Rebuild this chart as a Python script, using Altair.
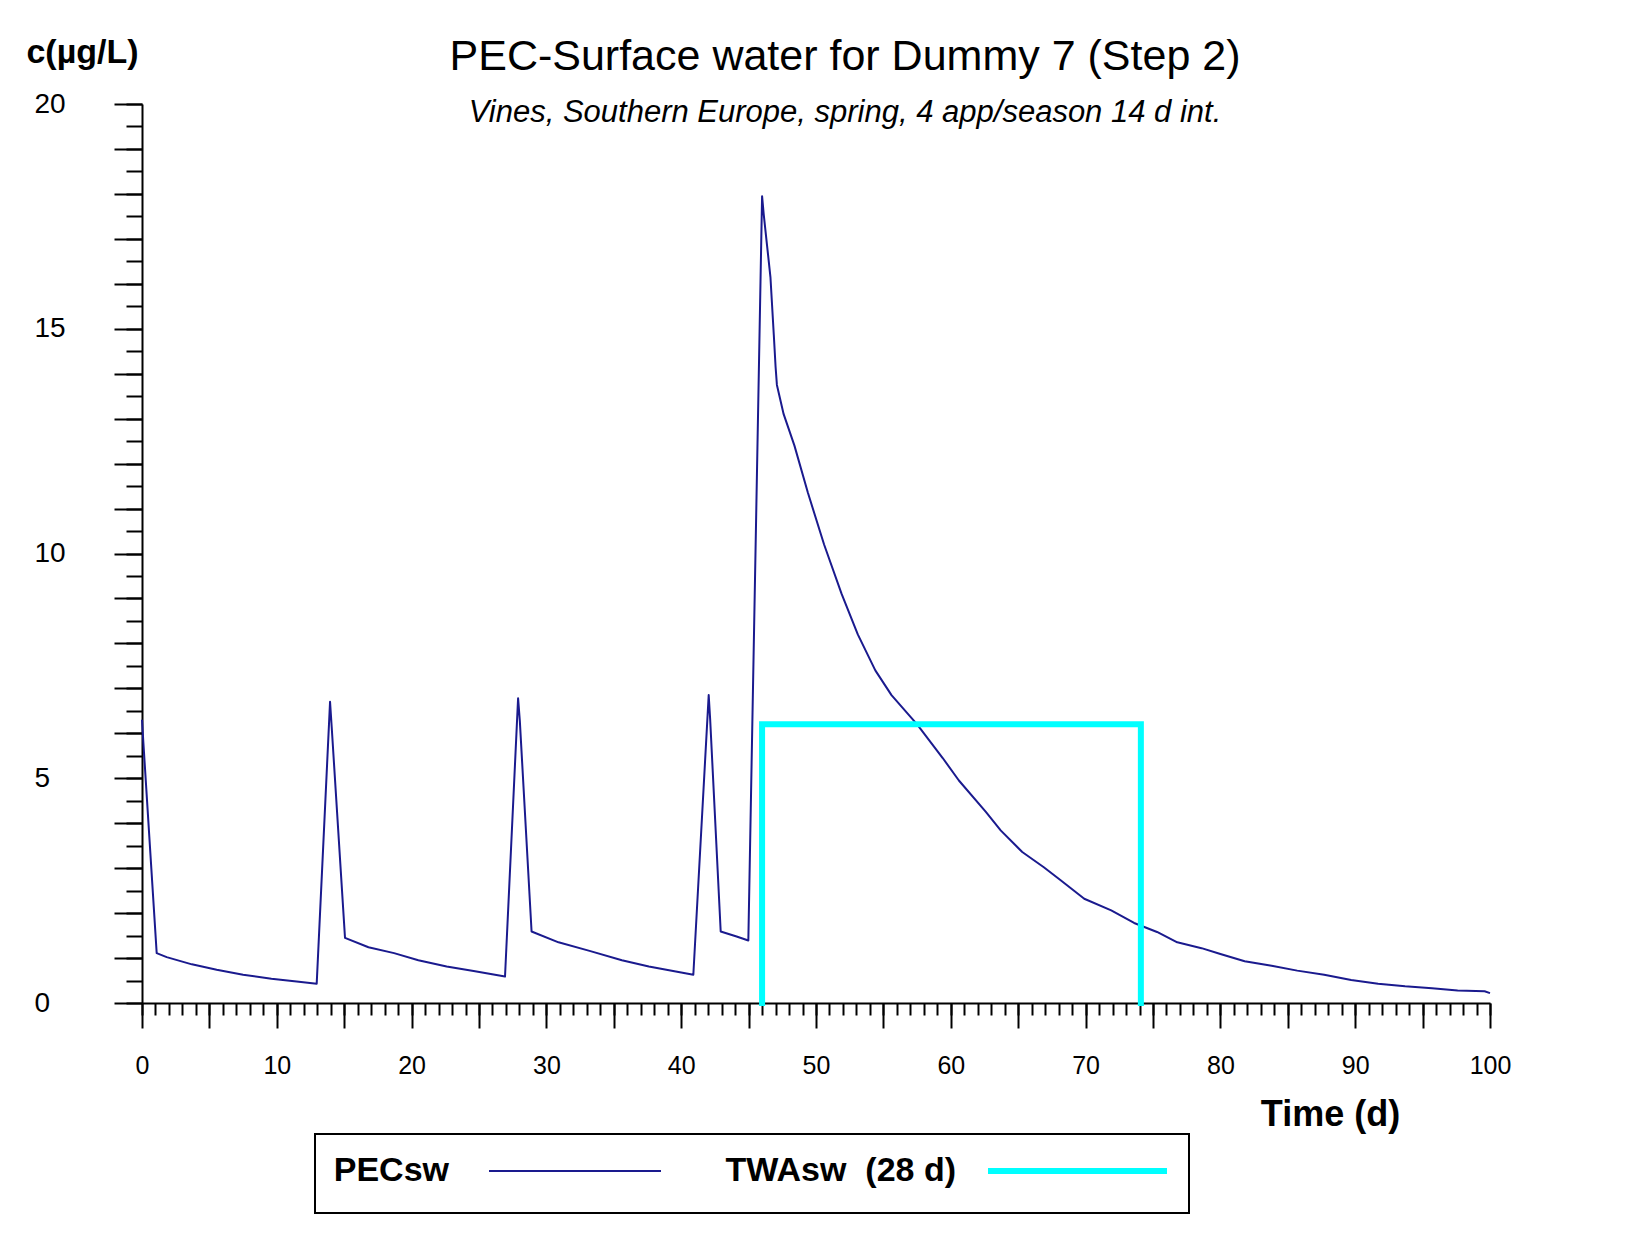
import altair as alt
import pandas as pd

F = "Liberation Sans"

# ---- data ----
pec_t = [0.0, 0.1, 1.09, 1.83, 3.7, 5.54, 7.5, 9.6, 11.47, 12.96,
         13.95, 14.07, 15.06, 16.8, 18.7, 20.5, 22.6, 24.6, 26.93,
         27.9, 28.03, 28.9, 30.9, 33.2, 35.6, 37.6, 39.6, 40.9,
         42.04, 42.15, 42.93, 44.11, 44.98,
         46.0, 46.12, 46.37, 46.62, 46.87, 47.0, 47.1, 47.6, 48.4, 49.4,
         50.6, 51.9, 53.1, 54.4, 55.6, 57.5, 59.4, 60.6, 62.6, 63.7,
         65.3, 66.9, 68.15, 69.9, 71.9, 73.6, 75.3, 76.8, 78.6, 80.0,
         81.8, 83.8, 85.7, 87.7, 89.7, 91.7, 93.7, 95.7, 97.6, 99.6, 100.0]
pec_c = [6.3, 5.8, 1.11, 1.02, 0.86, 0.74, 0.63, 0.54, 0.48, 0.43,
         6.7, 6.15, 1.45, 1.24, 1.11, 0.95, 0.81, 0.71, 0.59,
         6.78, 6.27, 1.59, 1.35, 1.16, 0.95, 0.81, 0.70, 0.63,
         6.85, 6.3, 1.59, 1.48, 1.39,
         17.95, 17.55, 16.85, 16.15, 14.86, 14.16, 13.75, 13.1, 12.4, 11.35,
         10.2, 9.1, 8.2, 7.4, 6.85, 6.2, 5.45, 4.95, 4.25, 3.84,
         3.36, 3.02, 2.73, 2.32, 2.06, 1.78, 1.58, 1.35, 1.22, 1.09,
         0.93, 0.83, 0.72, 0.63, 0.51, 0.43, 0.37, 0.33, 0.28, 0.26, 0.22]

twa_t = [46.0, 46.0, 74.1, 74.1]
twa_c = [0.0, 6.2, 6.2, 0.0]

series_names = ["PECsw", "TWAsw\u00a0\u00a0(28 d)"]
series_colors = ["#1a1a8e", "#00ffff"]
series_widths = [2, 6]

x_major = list(range(0, 101, 5))
x_minor = list(range(0, 101, 1))
y_major = list(range(0, 21))
y_minor = [i * 0.5 for i in range(41)]

pec = pd.DataFrame({"t": pec_t, "c": pec_c, "series": series_names[0],
                    "i": range(len(pec_t))})
twa = pd.DataFrame({"t": twa_t, "c": twa_c, "series": series_names[1],
                    "i": range(len(twa_t))})

x_scale = alt.Scale(domain=[0, 100], nice=False)
y_scale = alt.Scale(domain=[0, 20], nice=False)

common_legend = dict(
    title=None, orient="none", legendY=1030, padding=20,
    labelFont=F, labelFontSize=34, labelFontWeight="bold", labelColor="black",
    labelAlign="right", labelLimit=400, symbolSize=4,
)
# the PEC legend carries the frame of the whole legend box;
# labels sit left of their line symbols as in the original
legend_pec = alt.Legend(
    legendX=173, labelOffset=80, symbolType="M 137 0 H 309 M 813 18",
    symbolStrokeWidth=series_widths[0],
    strokeColor="black", fillColor="white", **common_legend,
)
legend_twa = alt.Legend(
    legendX=558, labelOffset=202, symbolType="M 251 0 H 430",
    symbolStrokeWidth=series_widths[1], **common_legend,
)

x_axis_major = alt.Axis(
    orient="bottom", values=x_major, tickSize=25, tickWidth=2, tickColor="black",
    domainColor="black", domainWidth=2, grid=False,
    labelExpr="datum.value % 10 == 0 ? datum.label : ''",
    labelFont=F, labelFontSize=25, labelColor="black", labelPadding=25,
    labelFlush=False,
    title="Time (d)", titleFont=F, titleFontSize=36, titleFontWeight="bold",
    titleColor="black", titleX=1188, titleY=111, titleAlign="center",
    titleBaseline="middle",
)
x_axis_minor = alt.Axis(
    orient="bottom", values=x_minor, tickSize=12, tickWidth=2, tickColor="black",
    domain=False, labels=False, grid=False, title=None,
)
y_axis_major = alt.Axis(
    orient="left", values=y_major, tickSize=28, tickWidth=2, tickColor="black",
    domainColor="black", domainWidth=2, grid=False,
    labelExpr="datum.value % 5 == 0 ? datum.label : ''",
    labelFont=F, labelFontSize=28, labelColor="black", labelPadding=80,
    labelAlign="left",
    title="c(µg/L)", titleFont=F, titleFontSize=34, titleFontWeight="bold",
    titleColor="black", titleAngle=0, titleX=-60, titleY=-52,
    titleAlign="center", titleBaseline="middle",
)
y_axis_minor = alt.Axis(
    orient="left", values=y_minor, tickSize=16, tickWidth=2, tickColor="black",
    domain=False, labels=False, grid=False, title=None,
)

twa_layer = alt.Chart(twa).mark_line(
    strokeJoin="miter", strokeCap="square", strokeWidth=series_widths[1]
).encode(
    x=alt.X("t:Q", scale=x_scale, axis=x_axis_minor),
    y=alt.Y("c:Q", scale=y_scale, axis=y_axis_minor),
    order="i:Q",
    color=alt.Color("series:N",
                    scale=alt.Scale(domain=[series_names[1]], range=[series_colors[1]]),
                    legend=legend_twa),
)

pec_layer = alt.Chart(pec).mark_line(
    strokeJoin="round", strokeWidth=series_widths[0]
).encode(
    x=alt.X("t:Q", scale=x_scale, axis=x_axis_major),
    y=alt.Y("c:Q", scale=y_scale, axis=y_axis_major),
    order="i:Q",
    color=alt.Color("series:N",
                    scale=alt.Scale(domain=[series_names[0]], range=[series_colors[0]]),
                    legend=legend_pec),
)

chart = alt.layer(pec_layer, twa_layer).resolve_scale(
    color="independent"
).resolve_legend(color="independent").resolve_axis(
    x="independent", y="independent"
).properties(
    width=1348, height=899,
    autosize=alt.AutoSizeParams(type="none"),
    padding={"left": 134, "top": 96, "right": 130, "bottom": 230},
    background="white",
    title=alt.TitleParams(
        text="PEC-Surface water for Dummy 7 (Step 2)",
        subtitle="Vines, Southern Europe, spring, 4 app/season 14 d int.",
        anchor="middle", frame="group", dx=29, offset=-93,
        font=F, fontSize=43, fontWeight="normal", color="black",
        subtitleFont=F, subtitleFontSize=31, subtitleFontStyle="italic",
        subtitleColor="black", subtitlePadding=19,
    ),
).configure_view(stroke=None).configure_legend(strokeWidth=2)

chart.save("out.html", embed_options={"renderer": "svg", "actions": False})
